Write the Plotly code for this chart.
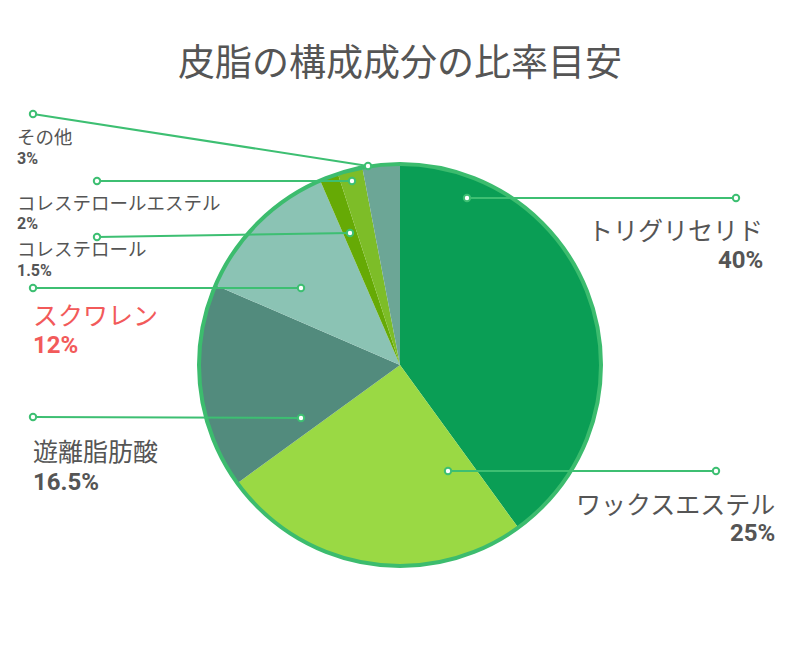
import plotly.graph_objects as go

W, H = 800, 650

# Data
labels = ["トリグリセリド", "ワックスエステル", "遊離脂肪酸", "スクワレン",
          "コレステロール", "コレステロールエステル", "その他"]
values = [40, 25, 16.5, 12, 1.5, 2, 3]
value_text = ["40%", "25%", "16.5%", "12%", "1.5%", "2%", "3%"]
colors = ["#0a9e55", "#9ad944", "#528b7d", "#8bc3b4", "#66aa05", "#7dbd28", "#6ca696"]

# Label layout (pixel positions of the callouts)
# (label x, label y, value y, anchor, label size, value size, color)
label_pos = {
    "トリグリセリド": (765, 229, 260, "right", 25, 24, "#555555"),
    "ワックスエステル": (777, 503, 533, "right", 25, 24, "#555555"),
    "遊離脂肪酸": (31, 450, 482, "left", 25, 24, "#555555"),
    "スクワレン": (31, 314, 345, "left", 25, 24, "#f25a5a"),
    "コレステロール": (15, 248, 270, "left", 18.5, 16, "#555555"),
    "コレステロールエステル": (15, 202, 224, "left", 18.5, 16, "#555555"),
    "その他": (15, 136, 158, "left", 18.5, 16, "#555555"),
}
# leader lines: (inner x, inner y, outer x, outer y)
leaders = {
    "トリグリセリド": (467, 198, 736, 198),
    "ワックスエステル": (448, 471, 716, 471),
    "遊離脂肪酸": (301, 418, 33, 417),
    "スクワレン": (301, 288, 33, 288),
    "コレステロール": (350, 233, 97, 237),
    "コレステロールエステル": (352, 181, 97, 181),
    "その他": (368, 166, 33, 114),
}

CX, CY, R = 400, 365, 201

def px(x):
    return x / W

def py(y):
    return 1 - y / H

fig = go.Figure()
fig.add_trace(go.Pie(
    labels=labels, values=values, sort=False, direction="clockwise", rotation=0,
    marker=dict(colors=colors, line=dict(width=0)),
    textinfo="none", hoverinfo="label+percent", showlegend=False,
    domain=dict(x=[px(CX - R), px(CX + R)], y=[py(CY + R), py(CY - R)]),
))

shapes = []
# outer ring
shapes.append(dict(type="circle", xref="paper", yref="paper",
                   x0=px(CX - R), x1=px(CX + R), y0=py(CY + R), y1=py(CY - R),
                   line=dict(color="#3cbc6e", width=4), fillcolor="rgba(0,0,0,0)", layer="above"))
LC = "#3dbf72"
for name, (x0, y0, x1, y1) in leaders.items():
    shapes.append(dict(type="line", xref="paper", yref="paper",
                       x0=px(x0), y0=py(y0), x1=px(x1), y1=py(y1),
                       line=dict(color=LC, width=2), layer="above"))
    for (cx, cy) in [(x0, y0), (x1, y1)]:
        shapes.append(dict(type="circle", xref="paper", yref="paper",
                           xsizemode="pixel", ysizemode="pixel",
                           xanchor=px(cx), yanchor=py(cy),
                           x0=-3.2, x1=3.2, y0=-3.2, y1=3.2,
                           line=dict(color=LC, width=2), fillcolor="white", layer="above"))

annotations = []
FONT = "Noto Sans CJK JP"
for i, name in enumerate(labels):
    lx, ly, vy, anc, fs, vs, col = label_pos[name]
    annotations.append(dict(xref="paper", yref="paper", x=px(lx), y=py(ly),
                            text=name, showarrow=False, xanchor=anc, yanchor="middle",
                            font=dict(family=FONT, size=fs, color=col)))
    annotations.append(dict(xref="paper", yref="paper", x=px(lx), y=py(vy),
                            text="<b>%s</b>" % value_text[i], showarrow=False,
                            xanchor=anc, yanchor="middle",
                            font=dict(family="Roboto, " + FONT, size=vs, color=col)))

fig.update_layout(
    width=W, height=H, margin=dict(l=0, r=0, t=0, b=0),
    paper_bgcolor="white", plot_bgcolor="white",
    title=dict(text="皮脂の構成成分の比率目安", x=0.5, xanchor="center",
               y=py(63), yanchor="middle", yref="paper",
               font=dict(family=FONT, size=37, color="#555555")),
    shapes=shapes, annotations=annotations,
)

fig.write_html("out.html")
